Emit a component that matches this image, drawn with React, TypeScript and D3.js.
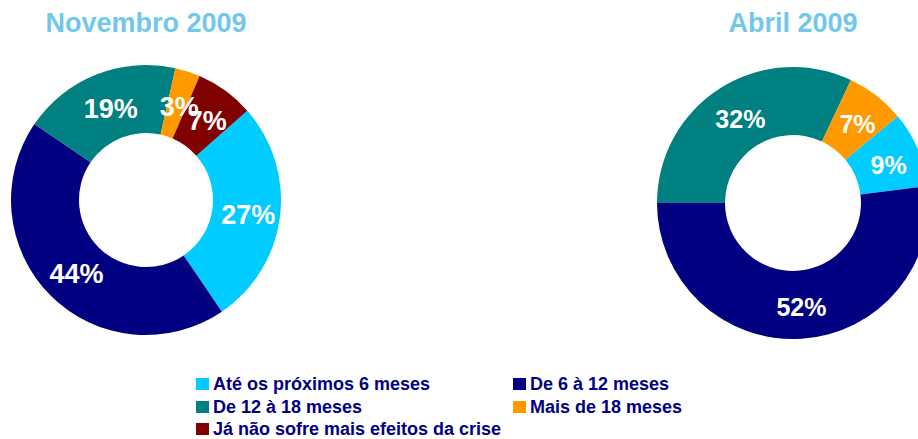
import React from 'react';
import * as d3 from 'd3';

// Categories (legend order) and colours
const categories = [
  'Até os próximos 6 meses',
  'De 6 à 12 meses',
  'De 12 à 18 meses',
  'Mais de 18 meses',
  'Já não sofre mais efeitos da crise',
];
const colors = ['#00CCFF', '#000080', '#008080', '#FF9900', '#800000'];

// Series values (percent)
const novembroValues = [27, 44, 19, 3, 7];
const abrilValues = [9, 52, 32, 7];

const titles = ['Novembro 2009', 'Abril 2009'];

const deg = Math.PI / 180;

const Donut = ({ values, cx, cy, outer, inner, start, title, labelSize }) => {
  const pie = d3.pie<number>().sort(null).value(d => d)
    .startAngle(start * deg).endAngle(start * deg + 2 * Math.PI);
  const arc = d3.arc<d3.PieArcDatum<number>>().innerRadius(inner).outerRadius(outer);
  const arcs = pie(values);
  return (
    <g>
      <text x={cx} y={32} textAnchor="middle" fontSize={27} fontWeight="bold" fill="#72C8EA">{title}</text>
      <g transform={`translate(${cx},${cy})`}>
        {arcs.map((a, i) => (
          <path key={i} d={arc(a) || ''} fill={colors[i]} />
        ))}
        {arcs.map((a, i) => {
          const [x, y] = arc.centroid(a);
          return (
            <text key={'l' + i} x={x + 2} y={y + 2} dy="0.36em" textAnchor="middle" fontSize={labelSize}
              fontWeight="bold" fill="#fff">{a.data + '%'}</text>
          );
        })}
      </g>
    </g>
  );
};

export default function App() {
  const legendCols = [196, 513];
  const legendRows = [390, 413, 435];
  return (
    <svg width={918} height={439} style={{ position: 'absolute', left: 0, top: 0 }}
      fontFamily="'Liberation Sans', Arial, sans-serif">
      <rect width={918} height={439} fill="#fff" />
      <Donut values={novembroValues} cx={146} cy={200} outer={135} inner={67} start={48.6}
        title={titles[0]} labelSize={27} />
      <Donut values={abrilValues} cx={793} cy={203} outer={136} inner={68} start={50.4}
        title={titles[1]} labelSize={25} />
      {categories.map((c, i) => {
        const x = legendCols[i % 2];
        const y = legendRows[Math.floor(i / 2)];
        return (
          <g key={c}>
            <rect x={x} y={y - 12} width={13} height={12} fill={colors[i]} />
            <text x={x + 17} y={y} fontSize={18} fontWeight="bold" fill="#000080">{c}</text>
          </g>
        );
      })}
    </svg>
  );
}
